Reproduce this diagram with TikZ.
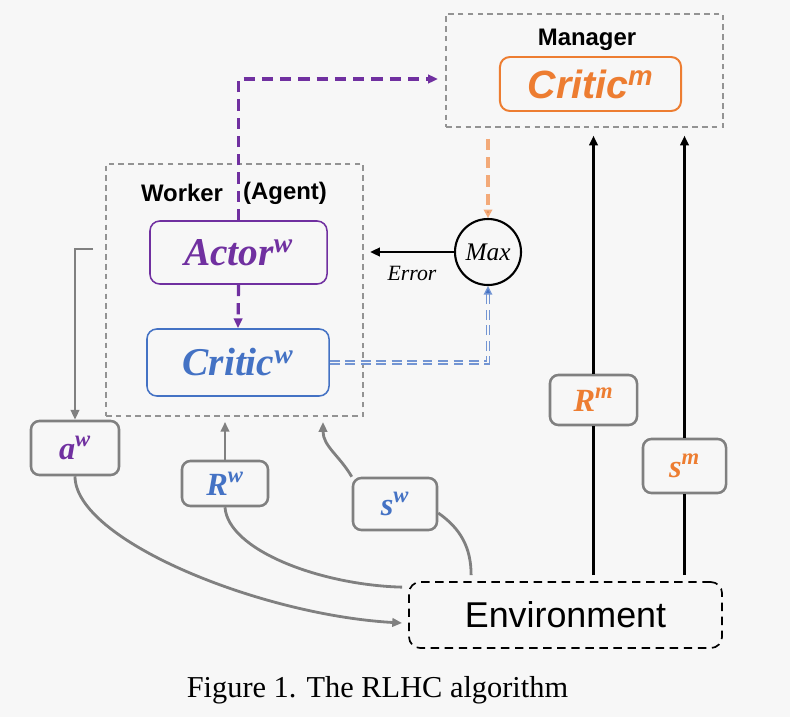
\documentclass[tikz,border=0pt]{standalone}
\usepackage{fontspec}
\setmainfont{Liberation Serif}
\setsansfont{Liberation Sans}
\usepackage{xcolor}
\usetikzlibrary{arrows.meta, positioning, calc}

\definecolor{pagebg}{HTML}{F7F7F7}
\definecolor{tagray}{HTML}{808080}
\definecolor{wpurple}{HTML}{7030A0}
\definecolor{wblue}{HTML}{4472C4}
\definecolor{morange}{HTML}{ED7D31}

\begin{document}
\begin{tikzpicture}[
  x=0.025cm, y=-0.025cm,
  groupbox/.style={draw=gray!85, dash pattern=on 4pt off 3pt, line width=0.9pt, inner sep=0pt},
  grouplabel/.style={font=\sffamily\bfseries\fontsize{17}{20}\selectfont, inner sep=0pt},
  rolebox/.style={draw, rounded corners=7pt, line width=1.1pt, inner sep=0pt,
    font=\bfseries\itshape\fontsize{28}{32}\selectfont},
  tagbox/.style={draw=tagray, rounded corners=6pt, line width=1.8pt, inner sep=0pt,
    font=\bfseries\itshape\fontsize{23}{26}\selectfont},
  tip/.style={-{Triangle[length=7pt,width=6pt]}},
  grayarrow/.style={tip, draw=tagray, line width=2pt},
  grayline/.style={draw=tagray, line width=2pt},
  blackarrow/.style={tip, line width=1.8pt},
  purplearrow/.style={tip, draw=wpurple, line width=2.3pt, dash pattern=on 8pt off 5pt},
  orangearrow/.style={-{Triangle[length=6pt,width=6pt,fill=morange!80!black]}, draw=morange!65, line width=2.3pt, dash pattern=on 8pt off 5pt},
  bluearrow/.style={-{Triangle[length=6pt,width=6pt,fill=wblue]}, draw=wblue!75, double=pagebg, double distance=1.4pt, line width=0.9pt, dash pattern=on 7pt off 4pt}
]
\fill[pagebg, use as bounding box] (0,0) rectangle (790,717);

% Manager group
\node[groupbox, minimum width=6.925cm, minimum height=2.825cm] (manager) at (584.5,70.5) {};
\node[grouplabel] (managerlbl) at (587,40) {Manager};
\node[rolebox, draw=morange, text=morange, line width=1.4pt, minimum width=4.525cm, minimum height=1.35cm,
  font=\sffamily\bfseries\itshape\fontsize{28}{32}\selectfont] (criticm) at (590.5,84) {Critic\textsuperscript{m}};

% Worker group
\node[groupbox, minimum width=6.425cm, minimum height=6.3cm] (worker) at (234.5,290) {};
\node[grouplabel] (workerlbl) at (182,193) {Worker};
\node[grouplabel] (agentlbl) at (285,193) {(Agent)};
\node[rolebox, draw=wpurple, text=wpurple, minimum width=4.425cm, minimum height=1.575cm] (actor) at (238.5,252.5) {Actor\textsuperscript{w}};
\node[rolebox, draw=wblue, text=wblue, minimum width=4.55cm, minimum height=1.675cm] (criticw) at (238,362.5) {Critic\textsuperscript{w}};

% Max and error signal
\node[draw, circle, line width=1.5pt, minimum size=1.65cm, inner sep=0pt,
  font=\itshape\fontsize{18}{20}\selectfont] (max) at (488,252) {Max};
\node[font=\itshape\fontsize{15.5}{18}\selectfont, inner sep=0pt] (error) at (412,273) {Error};

% Signals
\node[tagbox, text=wpurple, minimum width=2.2cm, minimum height=1.35cm] (aw) at (75,448) {a\textsuperscript{w}};
\node[tagbox, text=wblue, minimum width=2.15cm, minimum height=1.125cm] (rw) at (225,483.5) {R\textsuperscript{w}};
\node[tagbox, text=wblue, minimum width=2.1cm, minimum height=1.3cm] (sw) at (395,504) {s\textsuperscript{w}};
\node[tagbox, text=morange, minimum width=2.175cm, minimum height=1.25cm] (rm) at (593.5,400) {R\textsuperscript{m}};
\node[tagbox, text=morange, minimum width=2.075cm, minimum height=1.35cm] (sm) at (684.5,466) {s\textsuperscript{m}};

% Environment
\node[draw, rounded corners=8pt, line width=1.2pt, dash pattern=on 6pt off 4pt,
  minimum width=7.825cm, minimum height=1.65cm, font=\sffamily\fontsize{25.5}{28}\selectfont] (env) at (565.5,615) {Environment};

% Caption
\node[font=\fontsize{21.6}{24}\selectfont, inner sep=0pt] (caption) at (377.5,690) {Figure 1. The RLHC algorithm};

% Free ends
\coordinate (mgrin) at (438,79);
\coordinate (errtip) at (370,252);
\coordinate (wout) at (93,249);
\coordinate (swin) at (323,422);

% Worker internals
\draw[purplearrow] (actor.north) |- (mgrin);
\draw[purplearrow] (actor.south) -- (criticw.north);
\draw[blackarrow] (max.west) -- (errtip);
\draw[orangearrow, shorten <=0.28cm] (max.north |- manager.south) -- (max.north);
\draw[bluearrow] (criticw.east) -| (max.south);

% Worker loop
\draw[grayarrow] (wout) -| (aw.north);
\draw[grayarrow] (aw.south) .. controls (75,540) and (260,615) .. ($(env.west)+(-6,8)$);
\draw[grayline] (rw.south) .. controls (228,550) and (320,585) .. ($(env.north west)+(-6,6)$);
\draw[grayarrow, shorten >=0.13cm] (rw.north) -- (rw.north |- worker.south);
\draw[grayline] ($(env.north west)+(63,-6)$) to[out=90, in=-35] ($(sw.east)+(0,9)$);
\draw[grayarrow] (sw.north west) to[out=120, in=-90] (swin);

% Manager loop
\draw[line width=1.8pt, shorten <=0.15cm] (rm |- env.north) -- (rm.south);
\draw[blackarrow, shorten >=0.2cm] (rm.north) -- (rm |- manager.south);
\draw[line width=1.8pt, shorten <=0.15cm] (sm |- env.north) -- (sm.south);
\draw[blackarrow, shorten >=0.2cm] (sm.north) -- (sm |- manager.south);

\end{tikzpicture}
\end{document}
